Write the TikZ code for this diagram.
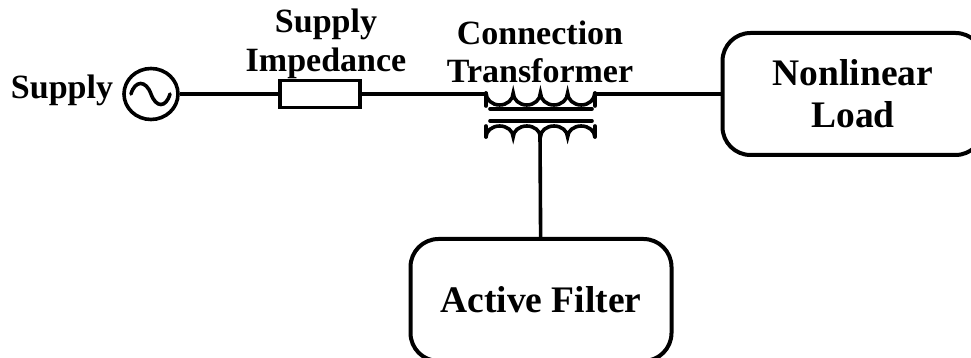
\documentclass[tikz,border=0pt]{standalone}
\usepackage{fontspec}
\setmainfont{Liberation Serif}
\usetikzlibrary{shapes.geometric}
\tikzset{
  wire/.style={line width=3.6pt},
  unitbox/.style={draw,line width=4pt,rounded corners=28pt,minimum width=261pt,minimum height=122pt,align=center,font=\fontsize{37.5}{42}\selectfont\bfseries},
  caption/.style={align=center,inner sep=0pt,font=\fontsize{34}{38.5}\selectfont\bfseries}
}
\begin{document}
\begin{tikzpicture}[x=1pt,y=1pt]
   \useasboundingbox (0,0) rectangle (971,358);

   \node[caption] (supplytext) at (62,268) {Supply};
   \node[caption] (imptext) at (326,314) {Supply\\Impedance};
   \node[caption] (xfmrtext) at (540,306) {Connection\\Transformer};

   \node[draw,wire,ellipse,minimum width=54pt,minimum height=51pt,inner sep=0pt] (source) at (151,264) {};
   \node[draw,wire,minimum width=80pt,minimum height=27pt,inner sep=0pt] (imp) at (320,264) {};
   \node[unitbox] (load) at (853,264) {Nonlinear\\Load};
   \node[unitbox] (filter) at (541,58) {Active Filter};

   \coordinate (xl) at (486,264);
   \coordinate (xr) at (595,264);
   \coordinate (xb) at (540,223);

   % sine inside the source
   \draw[wire,line cap=round] (131,264) .. controls (135,278) and (146,278) .. (151,264) .. controls (156,250) and (166,250) .. (170,264);

   % upper winding
   \draw[wire,line cap=round] (486,265) arc[start angle=180,end angle=360,x radius=13.6,y radius=12]
      arc[start angle=180,end angle=360,x radius=13.6,y radius=12]
      arc[start angle=180,end angle=360,x radius=13.6,y radius=12]
      arc[start angle=180,end angle=360,x radius=13.6,y radius=12];
   \draw[wire,line cap=round] (486,265) -- (486,252);
   \draw[wire,line cap=round] (595,265) -- (595,252);

   % core
   \draw[wire,line cap=round] (490,249) -- (592,249);
   \draw[wire,line cap=round] (490,237) -- (592,237);

   % lower winding
   \draw[wire,line cap=round] (486,221) arc[start angle=180,end angle=0,x radius=13.6,y radius=11]
      arc[start angle=180,end angle=0,x radius=13.6,y radius=11]
      arc[start angle=180,end angle=0,x radius=13.6,y radius=11]
      arc[start angle=180,end angle=0,x radius=13.6,y radius=11];
   \draw[wire,line cap=round] (486,221) -- (486,232);
   \draw[wire,line cap=round] (595,221) -- (595,232);

   \draw[wire] (source) -- (imp);
   \draw[wire] (imp) -- (xl);
   \draw[wire] (xr) -- (load);
   \draw[wire] (xb) -- (filter);
\end{tikzpicture}
\end{document}
